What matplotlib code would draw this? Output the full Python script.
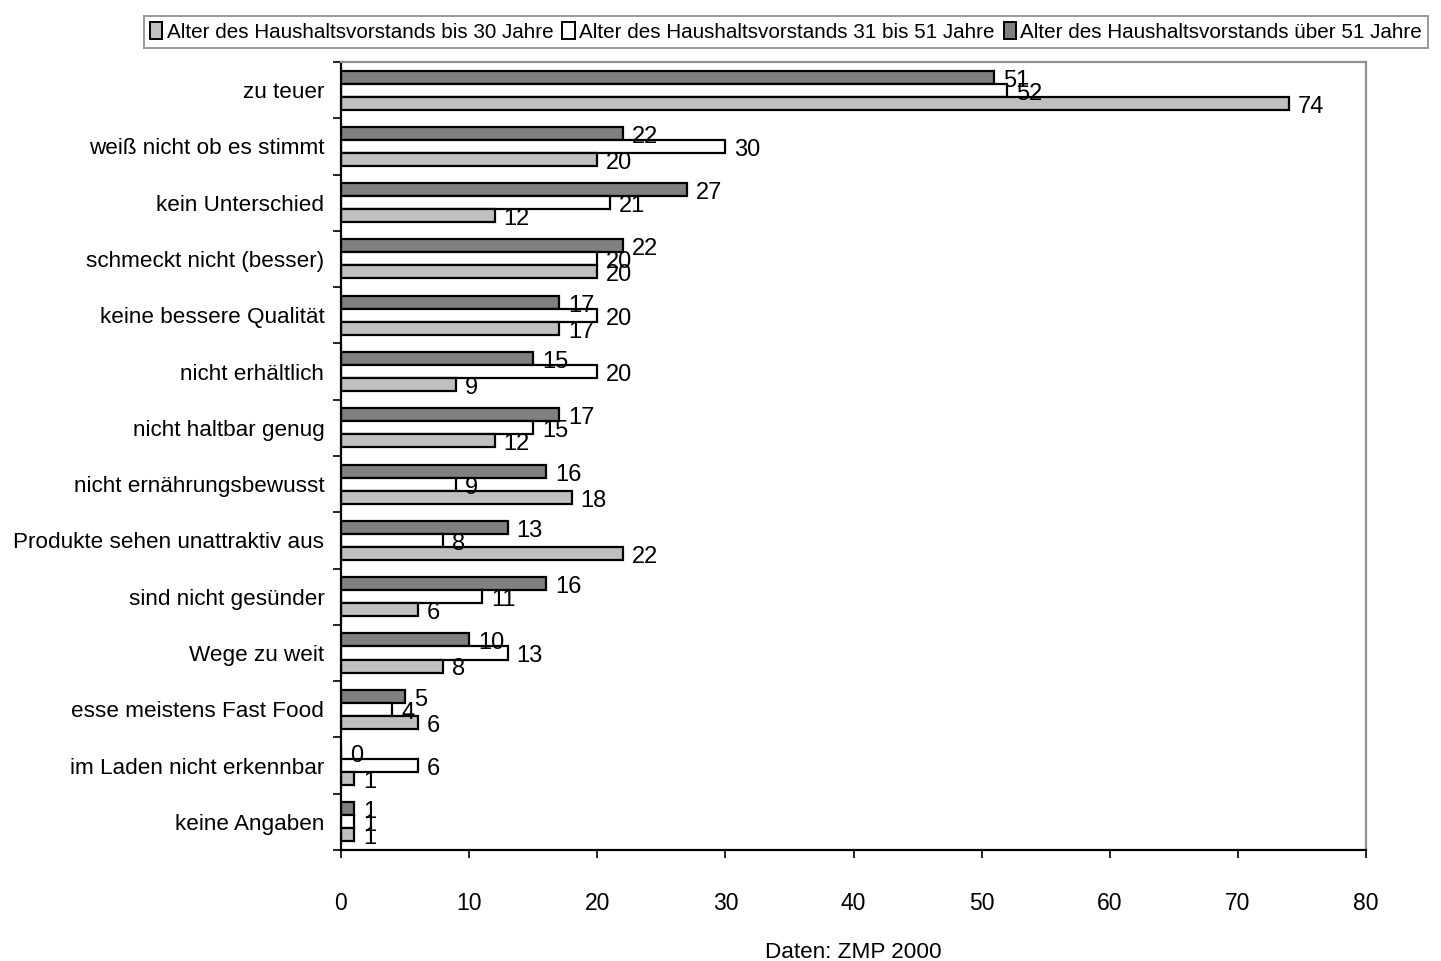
import matplotlib.pyplot as plt
import numpy as np
from matplotlib.patches import Patch

plt.rcParams['font.family'] = ['Liberation Sans', 'DejaVu Sans']

# Gruende gegen Bio-Produkte, nach Alter des Haushaltsvorstands
kategorien = ['zu teuer', 'weiß nicht ob es stimmt', 'kein Unterschied',
              'schmeckt nicht (besser)', 'keine bessere Qualität', 'nicht erhältlich',
              'nicht haltbar genug', 'nicht ernährungsbewusst',
              'Produkte sehen unattraktiv aus', 'sind nicht gesünder', 'Wege zu weit',
              'esse meistens Fast Food', 'im Laden nicht erkennbar', 'keine Angaben']
bis_30 = [74, 20, 12, 20, 17, 9, 12, 18, 22, 6, 8, 6, 1, 1]
von_31_51 = [52, 30, 21, 20, 20, 20, 15, 9, 8, 11, 13, 4, 6, 1]
ueber_51 = [51, 22, 27, 22, 17, 15, 17, 16, 13, 16, 10, 5, 0, 1]

serien = ['Alter des Haushaltsvorstands bis 30 Jahre',
          'Alter des Haushaltsvorstands 31 bis 51 Jahre',
          'Alter des Haushaltsvorstands über 51 Jahre']
farben = ['#c0c0c0', '#ffffff', '#808080']

fig = plt.figure(figsize=(14.41, 9.61), dpi=100)
ax = fig.add_axes([0.2366, 0.1155, 0.7114, 0.82])

n = len(kategorien)
y = np.arange(n)
h = 0.231
fs = 16.5

# oben: ueber 51, Mitte: 31-51, unten: bis 30
for werte, farbe, dy in [(ueber_51, farben[2], -h), (von_31_51, farben[1], 0), (bis_30, farben[0], h)]:
    bars = ax.barh(y + dy, werte, height=h, color=farbe, edgecolor='black', linewidth=1.6)
    for b, v in zip(bars, werte):
        ax.annotate(str(v), (v, b.get_y() + b.get_height() / 2), xytext=(6.5, -2.5),
                    textcoords='offset points', va='center', ha='left', fontsize=17)

ax.set_xlim(0, 80)
ax.set_ylim(n - 0.5, -0.5)
ax.set_xticks(np.arange(0, 81, 10))
ax.set_yticks(y)
ax.set_yticklabels(kategorien, fontsize=16.2)
ax.set_yticks(np.arange(-0.5, n, 1), minor=True)
ax.tick_params(axis='y', which='major', length=0, pad=12)
ax.tick_params(axis='y', which='minor', length=6, width=1.2, direction='out')
ax.tick_params(axis='x', length=6, width=1.2, direction='out', pad=24, labelsize=fs)
ax.set_xlabel('Daten: ZMP 2000', fontsize=16.2, labelpad=20)

for s in ['top', 'right']:
    ax.spines[s].set_color('#909090')
    ax.spines[s].set_linewidth(1.6)
for s in ['left', 'bottom']:
    ax.spines[s].set_linewidth(1.6)

handles = [Patch(facecolor=f, edgecolor='black', linewidth=1.4) for f in farben]
leg = fig.legend(handles, serien, loc='center', bbox_to_anchor=(0.5455, 0.9667), ncol=3,
                 fontsize=14.9, frameon=True, fancybox=False, edgecolor='#808080',
                 handlelength=0.6, handleheight=0.85, handletextpad=0.2, columnspacing=0.45,
                 borderpad=0.3, borderaxespad=0)
leg.get_frame().set_linewidth(1.4)

fig.savefig('out.png', dpi=100)
